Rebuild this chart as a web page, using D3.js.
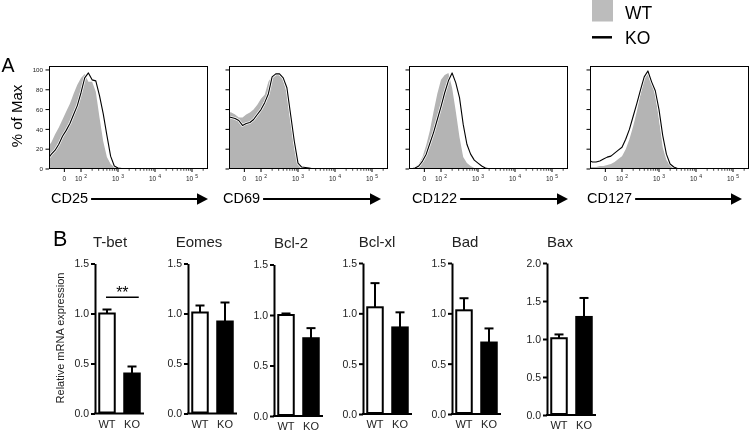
<!DOCTYPE html>
<html><head><meta charset="utf-8">
<script src="https://cdn.jsdelivr.net/npm/d3@7"></script>
<style>body{margin:0;background:#fff}svg{display:block;filter:grayscale(1)}</style>
</head><body><svg id="c" width="750" height="431"></svg>
<script>
// ---------- Panel A data (flow histograms, % of max vs. fluorescence on logicle decades) ----------
const markers = ["CD25", "CD69", "CD122", "CD127"];
const binPos = [1.1,1.2,1.3,1.4,1.5,1.6,1.7,1.8,1.9,2.0,2.1,2.2,2.3,2.4,2.5,2.6,2.7,2.8,2.9,3.0,3.1,3.2,3.3,3.4,3.5,3.6,5.5];
const wtCD25  = [22,27,35,42,50,58,66,76,85,92,96,88,88,78,52,28,12,5,2,1,0.5,0,0,0,0,0,0];
const koCD25  = [10,15,19,25,33,39,46,55,64,77,92,97,90,89,74,56,34,13,3,1,0.5,0,0,0,0,0,0];
const wtCD69  = [58,57,55,52,52,55,57,60,65,71,75,88,94,96,95,90,76,48,21,5,2,1,0,0,0,0,0];
const koCD69  = [53,52,51,49,44,46,47,50,55,60,67,76,93,96,96,92,82,55,28,6,2,1.5,1,0.3,0,0,0];
const wtCD122 = [0,0.5,2,5,12,24,39,58,76,90,95,97,82,58,32,12,6,3,1,0.5,0,0,0,0,0,0,0];
const koCD122 = [0,0.3,1,3,8,15,26,37,50,63,77,89,97,87,72,45,25,15,9,6,3,1,0.3,0,0,0,0];
const wtCD127 = [2,2,2,3,3,4,5,7,10,13,20,30,43,58,76,91,96,88,75,50,22,9,4,1.5,0.5,0,0];
const koCD127 = [9,7,7,8,10,12,13,16,19,22,30,40,53,66,80,93,99,88,79,60,34,15,5,2,0.5,0,0];
const histWT = [wtCD25, wtCD69, wtCD122, wtCD127];
const histKO = [koCD25, koCD69, koCD122, koCD127];
const pctTicks = [0, 20, 40, 60, 80, 100];
const decadeTicks = [1.55, 2, 3, 4, 5];
const decadeBase = ["0", "10", "10", "10", "10"];
const decadeExp = ["", "2", "3", "4", "5"];
const legendLabels = ["WT", "KO"];

// ---------- Panel B data (relative mRNA expression) ----------
const genes = ["T-bet", "Eomes", "Bcl-2", "Bcl-xl", "Bad", "Bax"];
const groups = ["WT", "KO"];
const wtMean = [1.00, 1.01, 1.00, 1.06, 1.03, 1.01];
const wtErr  = [0.04, 0.07, 0.015, 0.24, 0.12, 0.05];
const koMean = [0.40, 0.92, 0.77, 0.86, 0.71, 1.29];
const koErr  = [0.07, 0.19, 0.10, 0.15, 0.14, 0.25];
const yMaxB  = [1.5, 1.5, 1.5, 1.5, 1.5, 2.0];
const sigLabel = "**";

// ---------- layout ----------
const font = '"Liberation Sans", Arial, Helvetica, sans-serif';
const svg = d3.select("#c").attr("font-family", font);
const greyFill = "#b4b4b4";

const panelLeft = [49, 229, 409, 590];
const labelDx = [2, -6, 3, -3];
const tipDx = [0, -7, 0, -7];
const PW = 159, PT = 66, PB = 169;
const decadePx = 37, uLeft = 1.135;
const yA = d3.scaleLinear().domain([0, 104]).range([PB, PT]);

const minorU = [];
for (let dcd = 2; dcd <= 5; dcd++) for (let k = 2; k <= 9; k++) {
  const u = dcd + Math.log10(k); if (u < uLeft + PW / decadePx) minorU.push(u);
}

svg.append("text").attr("x", 1.5).attr("y", 71.5).attr("font-size", 19.5).text("A");
svg.append("text").attr("transform", "translate(22,116) rotate(-90)")
  .attr("text-anchor", "middle").attr("font-size", 15).text("% of Max");

markers.forEach((m, i) => {
  const L = panelLeft[i];
  const x = d3.scaleLinear().domain([uLeft, uLeft + PW / decadePx]).range([L, L + PW]);
  const g = svg.append("g");
  const cid = "clip" + i;
  svg.append("clipPath").attr("id", cid).append("rect")
    .attr("x", L).attr("y", PT).attr("width", PW).attr("height", PB - PT);
  const ptsW = binPos.map((u, j) => [u, histWT[i][j]]);
  const ptsK = binPos.map((u, j) => [u, histKO[i][j]]);
  const area = d3.area().x(d => x(d[0])).y0(yA(0)).y1(d => yA(d[1]));
  const line = d3.line().x(d => x(d[0])).y(d => yA(d[1]));
  const cg = g.append("g").attr("clip-path", `url(#${cid})`);
  cg.append("path").attr("d", area(ptsW)).attr("fill", greyFill);
  cg.append("path").attr("d", line(ptsK)).attr("fill", "none").attr("stroke", "#fff")
    .attr("stroke-width", 2.6).attr("stroke-linejoin", "round");
  cg.append("path").attr("d", line(ptsK)).attr("fill", "none").attr("stroke", "#000")
    .attr("stroke-width", 1.1).attr("stroke-linejoin", "round");
  g.append("rect").attr("x", L + 0.5).attr("y", PT + 0.5).attr("width", PW - 1).attr("height", PB - PT - 1)
    .attr("fill", "none").attr("stroke", "#000").attr("stroke-width", 1);

  g.selectAll(".yt").data(pctTicks).join("line")
    .attr("x1", L - 3.5).attr("x2", L).attr("y1", d => yA(d)).attr("y2", d => yA(d))
    .attr("stroke", "#000").attr("stroke-width", 1);
  if (i === 0) {
    g.selectAll(".yl").data(pctTicks).join("text")
      .attr("x", L - 6).attr("y", d => yA(d) + 2.2).attr("text-anchor", "end")
      .attr("font-size", 6.2).attr("fill", "#222").text(d => d);
  }
  g.selectAll(".xt").data(decadeTicks).join("line")
    .attr("x1", d => x(d)).attr("x2", d => x(d)).attr("y1", PB).attr("y2", PB + 3)
    .attr("stroke", "#000").attr("stroke-width", 1);
  g.selectAll(".xm").data(minorU).join("line")
    .attr("x1", d => x(d)).attr("x2", d => x(d)).attr("y1", PB).attr("y2", PB + 1.8)
    .attr("stroke", "#000").attr("stroke-width", 0.7);
  const tl = g.selectAll(".xl").data(decadeTicks).join("text")
    .attr("x", d => x(d)).attr("y", 181).attr("text-anchor", "middle")
    .attr("font-size", 6.5).attr("fill", "#222");
  tl.append("tspan").text((d, k) => decadeBase[k]);
  tl.append("tspan").attr("dx", (d, k) => decadeExp[k] ? 2 : 0).attr("dy", -3.2)
    .attr("font-size", 5).text((d, k) => decadeExp[k]);

  const lab = g.append("text").attr("x", L + labelDx[i]).attr("y", 203.3).attr("font-size", 14.5).text(m);
  const endX = L + labelDx[i] + lab.node().getComputedTextLength();
  const tip = L + PW + tipDx[i];
  g.append("line").attr("x1", endX + 3).attr("x2", tip - 9).attr("y1", 199).attr("y2", 199)
    .attr("stroke", "#000").attr("stroke-width", 2);
  g.append("path").attr("d", `M${tip},199 L${tip - 11},193.3 L${tip - 11},204.7 Z`).attr("fill", "#000");
});

svg.append("rect").attr("x", 592).attr("y", 0).attr("width", 21).attr("height", 21.5).attr("fill", "#bcbcbc");
svg.append("line").attr("x1", 592).attr("x2", 612).attr("y1", 37.3).attr("y2", 37.3)
  .attr("stroke", "#000").attr("stroke-width", 2.5);
svg.selectAll(".lg").data(legendLabels).join("text")
  .attr("x", 625).attr("y", (d, k) => 18.5 + k * 25).attr("font-size", 17.5).text(d => d);

// ---------- Panel B ----------
const axisX = [95, 188, 274, 363, 452, 547];
const baseY = [413.5, 413.5, 416, 414, 414, 415];
const topY  = [263.5, 263.5, 264.5, 263, 263, 263];
const titleDx = [15, 11, 17, 14, 13, 13];

svg.append("text").attr("x", 53).attr("y", 245.5).attr("font-size", 21.5).text("B");
svg.append("text").attr("transform", "translate(63.5,338) rotate(-90)")
  .attr("text-anchor", "middle").attr("font-size", 11).attr("fill", "#222").text("Relative mRNA expression");

genes.forEach((gn, i) => {
  const a = axisX[i];
  const yS = d3.scaleLinear().domain([0, yMaxB[i]]).range([baseY[i], topY[i]]);
  const xb = d3.scaleBand().domain(groups).range([a, a + 49]).paddingInner(0.3).paddingOuter(0.13);
  const bw = xb.bandwidth();
  const g = svg.append("g");

  const ax = g.append("g").attr("transform", `translate(${a},0)`)
    .call(d3.axisLeft(yS).tickValues(d3.range(0, yMaxB[i] + 0.001, 0.5))
      .tickFormat(d3.format(".1f")).tickSize(4).tickSizeOuter(0).tickPadding(2));
  ax.select(".domain").attr("stroke-width", 2);
  ax.selectAll(".tick line").attr("stroke-width", 2);
  ax.selectAll(".tick text").attr("font-size", 10.5).attr("font-family", font).attr("fill", "#222");
  g.append("line").attr("x1", a - 1).attr("x2", a + 49).attr("y1", baseY[i]).attr("y2", baseY[i])
    .attr("stroke", "#000").attr("stroke-width", 2);

  const means = [wtMean[i], koMean[i]];
  const errs = [wtErr[i], koErr[i]];
  groups.forEach((grp, k) => {
    const cx = xb(grp) + bw / 2;
    g.append("line").attr("x1", cx).attr("x2", cx)
      .attr("y1", yS(means[k])).attr("y2", yS(means[k] + errs[k])).attr("stroke", "#000").attr("stroke-width", 2);
    g.append("line").attr("x1", cx - 4.5).attr("x2", cx + 4.5)
      .attr("y1", yS(means[k] + errs[k])).attr("y2", yS(means[k] + errs[k])).attr("stroke", "#000").attr("stroke-width", 2);
    g.append("rect").attr("x", xb(grp) + 1).attr("y", yS(means[k]))
      .attr("width", bw - 2).attr("height", baseY[i] - 1 - yS(means[k]))
      .attr("fill", k === 0 ? "#fff" : "#000").attr("stroke", "#000").attr("stroke-width", 2);
    g.append("text").attr("x", cx).attr("y", baseY[i] + 14).attr("text-anchor", "middle")
      .attr("font-size", 11).attr("fill", "#222").text(grp);
  });
  g.append("text").attr("x", a + titleDx[i]).attr("y", i === 2 ? 248 : 246.5).attr("text-anchor", "middle")
    .attr("font-size", 15).attr("fill", "#222").text(gn);

  if (i === 0) {
    const x1 = xb("WT") + bw / 2 - 1, x2 = xb("KO") + bw - 2;
    g.append("line").attr("x1", x1).attr("x2", x2).attr("y1", 297.3).attr("y2", 297.3)
      .attr("stroke", "#000").attr("stroke-width", 1.5);
    g.append("text").attr("x", (x1 + x2) / 2).attr("y", 298.2).attr("text-anchor", "middle")
      .attr("font-size", 16).text(sigLabel);
  }
});
</script></body></html>
